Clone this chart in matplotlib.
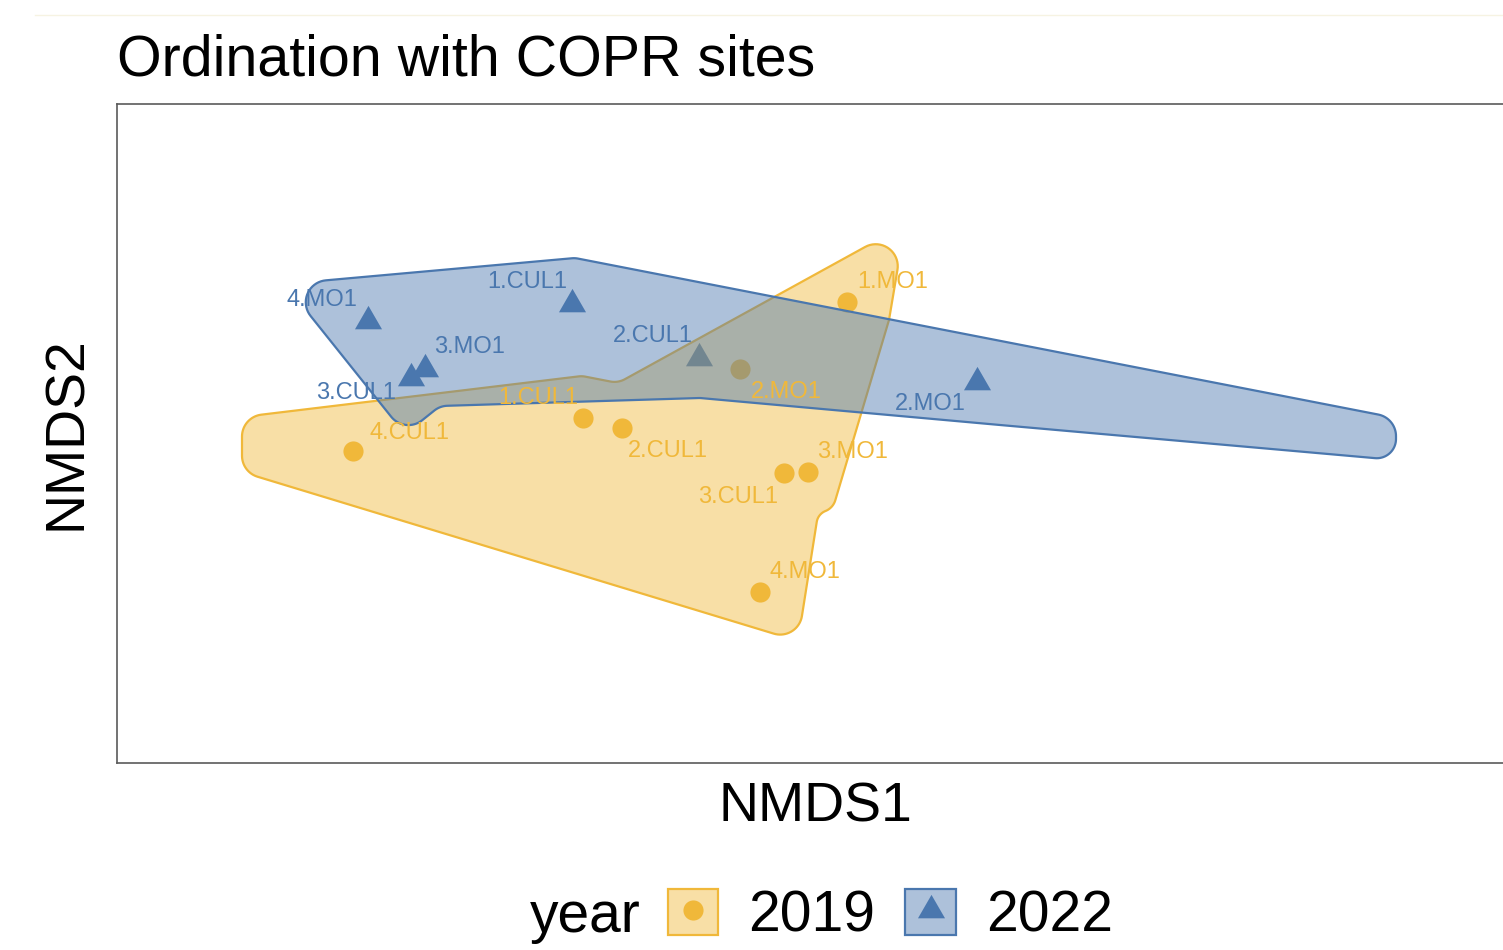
import numpy as np
import matplotlib
matplotlib.use("Agg")
import matplotlib.pyplot as plt
from matplotlib.patches import Polygon, Patch
from matplotlib.lines import Line2D
from matplotlib.colors import to_rgba

plt.rcParams['font.family'] = ['Liberation Sans', 'DejaVu Sans']

# site scores (NMDS1, NMDS2)
sites_2019 = ['1.MO1', '2.MO1', '3.MO1', '3.CUL1', '4.MO1', '1.CUL1', '2.CUL1', '4.CUL1']
x_2019 = [0.294, 0.080, 0.216, 0.168, 0.120, -0.234, -0.156, -0.694]
y_2019 = [0.256, 0.122, -0.084, -0.086, -0.324, 0.024, 0.004, -0.042]
lab_x_2019 = [0.386, 0.172, 0.306, 0.076, 0.210, -0.324, -0.064, -0.580]
lab_y_2019 = [0.296, 0.076, -0.044, -0.134, -0.284, 0.064, -0.042, -0.006]

sites_2022 = ['4.MO1', '1.CUL1', '3.MO1', '3.CUL1', '2.CUL1', '2.MO1']
x_2022 = [-0.664, -0.256, -0.550, -0.578, -0.002, 0.554]
y_2022 = [0.218, 0.252, 0.122, 0.104, 0.144, 0.096]
lab_x_2022 = [-0.756, -0.346, -0.460, -0.688, -0.094, 0.460]
lab_y_2022 = [0.260, 0.296, 0.166, 0.074, 0.188, 0.052]

# hull outlines (corners before rounding)
hull_x_2019 = [-0.916, -0.236, -0.164, 0.410, 0.378, 0.266, 0.236, 0.196, -0.916]
hull_y_2019 = [0.026, 0.108, 0.094, 0.410, 0.220, -0.156, -0.168, -0.422, -0.084]
hull_x_2022 = [-0.830, -0.250, 1.392, 1.392, 0.600, 0.000, -0.520, -0.590]
hull_y_2022 = [0.292, 0.344, 0.024, -0.060, 0.010, 0.064, 0.048, -0.008]

years = ['2019', '2022']
col_2019 = '#F0B83A'
col_2022 = '#4A77AE'


def rounded_outline(xs, ys, rad, n=20):
    pts = np.column_stack([xs, ys])
    m = len(pts)
    out = []
    for i in range(m):
        v = pts[i]
        a = pts[i - 1] - v
        b = pts[(i + 1) % m] - v
        la, lb = np.hypot(*a), np.hypot(*b)
        u1, u2 = a / la, b / lb
        phi = np.arccos(np.clip(u1 @ u2, -1, 1))
        r = rad
        d = r / np.tan(phi / 2)
        dmax = 0.5 * min(la, lb)
        if d > dmax:
            d = dmax
            r = d * np.tan(phi / 2)
        bis = u1 + u2
        bis = bis / np.hypot(*bis)
        c = v + bis * r / np.sin(phi / 2)
        A = v + u1 * d
        B = v + u2 * d
        a0 = np.arctan2(A[1] - c[1], A[0] - c[0])
        a1 = np.arctan2(B[1] - c[1], B[0] - c[0])
        da = (a1 - a0 + np.pi) % (2 * np.pi) - np.pi
        t = np.linspace(a0, a0 + da, n)
        out.extend(np.column_stack([c[0] + r * np.cos(t), c[1] + r * np.sin(t)]))
    return np.array(out)


W, H = 1503, 950
fig = plt.figure(figsize=(W / 100, H / 100), dpi=100)
ax = fig.add_axes([117 / W, 1 - 763 / H, (1513 - 117) / W, (763 - 104) / H])
ax.set_xlim(-1.166, 1.626)
ax.set_ylim(-0.666, 0.652)
ax.set_xticks([])
ax.set_yticks([])
for s in ax.spines.values():
    s.set_color('#5a5a5a')
    s.set_linewidth(1.2)

tri = [(0, 1), (-0.866, -0.5), (0.866, -0.5)]

# points
ax.plot(x_2019, y_2019, 'o', color=col_2019, ms=14.5, mec='none', zorder=2)
ax.plot(x_2022, y_2022, linestyle='none', marker=tri, color=col_2022, ms=22.5, mec='none', zorder=2)

# hulls
for hx, hy, c, z in [(hull_x_2019, hull_y_2019, col_2019, 3), (hull_x_2022, hull_y_2022, col_2022, 4)]:
    poly = rounded_outline(hx, hy, 0.044)
    ax.add_patch(Polygon(poly, closed=True, facecolor=to_rgba(c, 0.45),
                         edgecolor=c, linewidth=1.6, zorder=z))

# labels
for name, lx, ly in zip(sites_2019, lab_x_2019, lab_y_2019):
    ax.text(lx, ly, name, color=col_2019, fontsize=17, ha='center', va='center', zorder=5)
for name, lx, ly in zip(sites_2022, lab_x_2022, lab_y_2022):
    ax.text(lx, ly, name, color=col_2022, fontsize=17, ha='center', va='center', zorder=5)

fig.text(117 / W, 1 - 76 / H, 'Ordination with COPR sites', fontsize=41.3, va='baseline', ha='left')
fig.text(815 / W, 1 - 808 / H, 'NMDS1', fontsize=40, ha='center', va='center')
fig.text(67 / W, 1 - 433 / H, 'NMDS2', fontsize=40, ha='center', va='center', rotation=90)

# faint rule at the top
fig.add_artist(Line2D([35 / W, 1], [1 - 15 / H] * 2, color='#f6f3e2', lw=1))

# legend
handles = [
    (Patch(facecolor=to_rgba(col_2019, 0.45), edgecolor=col_2019, linewidth=1.6),
     Line2D([], [], marker='o', color=col_2019, ms=14.5, linestyle='none', mec='none')),
    (Patch(facecolor=to_rgba(col_2022, 0.45), edgecolor=col_2022, linewidth=1.6),
     Line2D([], [], marker=tri, color=col_2022, ms=22.5, linestyle='none', mec='none')),
]
fig.legend(handles, years, loc='center left', bbox_to_anchor=(668 / W, 1 - 916 / H),
           ncol=2, frameon=False, fontsize=41, handlelength=0.88, handleheight=0.88,
           handletextpad=0.53, columnspacing=0.53, borderpad=0, borderaxespad=0)
fig.text(530 / W, 1 - 932 / H, 'year', fontsize=41, va='baseline', ha='left')

fig.savefig('out.png', dpi=100)
